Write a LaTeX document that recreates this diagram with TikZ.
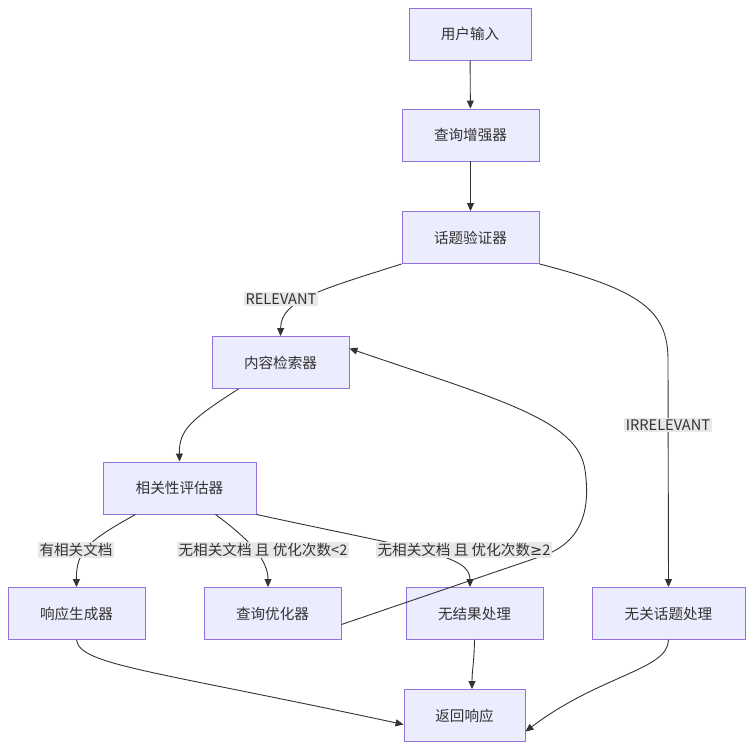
\documentclass[tikz,border=0pt]{standalone}
\usepackage{fontspec}
\setmainfont{Noto Sans CJK SC}
\newfontfamily\symfont{DejaVu Sans}
\usetikzlibrary{arrows.meta}
\definecolor{boxfill}{HTML}{ECECFF}
\definecolor{boxline}{HTML}{9370DB}
\definecolor{edgec}{HTML}{333333}
\definecolor{lblbg}{HTML}{E8E8E8}
\begin{document}
\begin{tikzpicture}[x=1pt,y=-1pt,
  box/.style={draw=boxline,fill=boxfill,line width=0.9pt,minimum height=52pt,inner sep=0pt,text=edgec,font=\fontsize{14.6}{16}\selectfont},
  lbl/.style={fill=lblbg,inner sep=1.5pt,text=edgec,font=\fontsize{14.6}{16}\selectfont},
  edge/.style={draw=edgec,line width=0.9pt,-{Triangle[length=8pt,width=7pt]}}]
\useasboundingbox (0,0) rectangle (753,750);
\node[box,minimum width=122pt] (in) at (470,34) {用户输入};
\node[box,minimum width=137pt] (enh) at (470.5,135) {查询增强器};
\node[box,minimum width=137pt] (ver) at (470.5,237.5) {话题验证器};
\node[box,minimum width=137pt] (ret) at (280.5,362.5) {内容检索器};
\node[box,minimum width=153pt] (eva) at (179.5,488) {相关性评估器};
\node[box,minimum width=137pt] (gen) at (76.5,613.5) {响应生成器};
\node[box,minimum width=137pt] (opt) at (272.5,613.5) {查询优化器};
\node[box,minimum width=137pt] (nor) at (474.5,613.5) {无结果处理};
\node[box,minimum width=153pt] (irr) at (668.5,613.5) {无关话题处理};
\node[box,minimum width=121pt] (out) at (464.5,715.5) {返回响应};

\draw[edge] (in) -- (enh);
\draw[edge] (enh) -- (ver);
\draw[edge] (ver.south west) .. controls (320,290) and (281,300) .. (ret.north);
\draw[edge] (ver.south east) .. controls (640,290) and (668,310) .. (668,360) -- (irr.north);
\draw[edge] ([xshift=-42pt]ret.south) .. controls (190,420) and (179,430) .. (eva.north);
\draw[edge] ([xshift=-44pt]eva.south) .. controls (90,540) and (76,550) .. (gen.north);
\draw[edge] ([xshift=36pt]eva.south) .. controls (250,540) and (268,560) .. ([xshift=-4.5pt]opt.north);
\draw[edge] (eva.south east) .. controls (420,550) and (470,555) .. ([xshift=-4.5pt]nor.north);
\draw[edge] ([yshift=-11pt]opt.east) -- (545,555) .. controls (585,540) and (590,505) .. (585,470) .. controls (578,420) and (500,400) .. ([yshift=14pt]ret.east);
\draw[edge] (gen.south) .. controls (80,665) and (150,670) .. ([yshift=-9pt]out.west);
\draw[edge] (nor.south) .. controls (474,665) and (472,670) .. ([xshift=7.5pt]out.north);
\draw[edge] (irr.south) .. controls (668,670) and (600,675) .. ([yshift=-16pt]out.east);

\node[lbl] (l1) at (281,299) {RELEVANT};
\node[lbl] (l2) at (668,425) {IRRELEVANT};
\node[lbl] (l3) at (76,550) {有相关文档};
\node[lbl] (l4) at (263,550) {无相关文档 且 优化次数<2};
\node[lbl] (l5) at (464,550) {无相关文档 且 优化次数{\symfont ≥}2};
\end{tikzpicture}
\end{document}
